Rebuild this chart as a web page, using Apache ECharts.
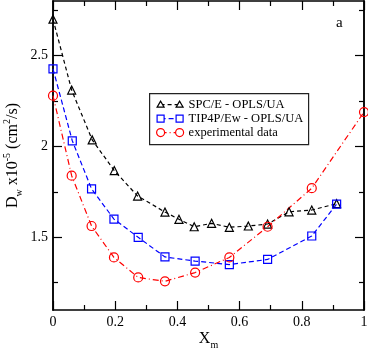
<!DOCTYPE html>
<html>
<head>
<meta charset="utf-8">
<script src="https://cdn.jsdelivr.net/npm/echarts@6/dist/echarts.min.js"></script>
<style>
  html, body { margin: 0; padding: 0; background: #fff; }
  #chart { width: 368px; height: 350px; }
</style>
</head>
<body>
<div id="chart"></div>
<script>
const spcX = [0, 0.06, 0.126, 0.197, 0.272, 0.36, 0.405, 0.454, 0.51, 0.567, 0.628, 0.69, 0.759, 0.832, 0.912]
const spcY = [2.70, 2.31, 2.036, 1.867, 1.727, 1.639, 1.599, 1.558, 1.577, 1.555, 1.562, 1.573, 1.64, 1.65, 1.685]
const tipX = [0, 0.062, 0.124, 0.196, 0.274, 0.36, 0.457, 0.567, 0.69, 0.832, 0.912]
const tipY = [2.427, 2.031, 1.766, 1.600, 1.500, 1.392, 1.369, 1.350, 1.378, 1.507, 1.682]
const expX = [0, 0.06, 0.124, 0.196, 0.274, 0.36, 0.457, 0.567, 0.69, 0.832, 1.0]
const expY = [2.279, 1.839, 1.562, 1.389, 1.279, 1.258, 1.306, 1.389, 1.558, 1.770, 2.189]

const yMajor = [1.5, 2, 2.5]
const yMinor = [1.25, 1.75, 2.25, 2.75]
const legendNames = ['SPC/E - OPLS/UA', 'TIP4P/Ew - OPLS/UA', 'experimental data']

const font = 'Liberation Serif'
const colors = ['#000000', '#0000ff', '#ff0000']

const pair = (xs, ys) => xs.map((x, i) => [x, ys[i]])

const chart = echarts.init(document.getElementById('chart'))

const xBase = {
  type: 'value', min: 0, max: 1, interval: 0.2,
  axisLine: { lineStyle: { color: '#000', width: 1.5 } },
  axisTick: { inside: true, length: 9, lineStyle: { color: '#000', width: 1.2 } },
  minorTick: { show: true, splitNumber: 2, length: 5, lineStyle: { color: '#000', width: 1.2 } },
  splitLine: { show: false }
}
const yBase = {
  type: 'value', min: 1.1, max: 2.8,
  axisLine: { show: true, lineStyle: { color: '#000', width: 1.5 } },
  splitLine: { show: false }
}

const option = {
  animation: false,
  grid: { left: 53, right: 4, top: 1, bottom: 40, outerBoundsMode: 'none' },
  xAxis: [
    Object.assign({}, xBase, {
      position: 'bottom',
      name: 'X{sub|m}',
      nameLocation: 'middle',
      nameGap: 18,
      nameMoveOverlap: false,
      nameTextStyle: {
        fontFamily: font, fontSize: 16, color: '#000', lineHeight: 18, verticalAlign: 'top',
        rich: { sub: { fontFamily: font, fontSize: 10, color: '#000', verticalAlign: 'bottom', lineHeight: 22 } }
      },
      axisLabel: { fontFamily: font, fontSize: 14, color: '#000', margin: 5 }
    }),
    Object.assign({}, xBase, { position: 'top', axisLabel: { show: false } })
  ],
  yAxis: [
    Object.assign({}, yBase, {
      position: 'left',
      name: 'D{sub|w} x10{sup|-5} (cm{sup|2}/s)',
      nameLocation: 'middle',
      nameGap: 29,
      nameMoveOverlap: false,
      nameTextStyle: {
        fontFamily: font, fontSize: 16, color: '#000', lineHeight: 22,
        rich: {
          sub: { fontFamily: font, fontSize: 10, color: '#000', verticalAlign: 'bottom', lineHeight: 22 },
          sup: { fontFamily: font, fontSize: 10, color: '#000', verticalAlign: 'top', lineHeight: 22 }
        }
      },
      axisTick: { inside: true, length: 9, customValues: yMajor, lineStyle: { color: '#000', width: 1.2 } },
      axisLabel: { customValues: yMajor, fontFamily: font, fontSize: 14, color: '#000', margin: 5 }
    }),
    Object.assign({}, yBase, {
      position: 'left',
      axisTick: { inside: true, length: 5, customValues: yMinor, lineStyle: { color: '#000', width: 1.2 } },
      axisLabel: { show: false }
    }),
    Object.assign({}, yBase, {
      position: 'right',
      axisTick: { inside: true, length: 9, customValues: yMajor, lineStyle: { color: '#000', width: 1.2 } },
      axisLabel: { show: false }
    }),
    Object.assign({}, yBase, {
      position: 'right',
      axisTick: { inside: true, length: 5, customValues: yMinor, lineStyle: { color: '#000', width: 1.2 } },
      axisLabel: { show: false }
    })
  ],
  series: [
    {
      name: legendNames[0], type: 'line', data: pair(spcX, spcY),
      symbol: 'triangle', symbolSize: 8, clip: false,
      lineStyle: { color: colors[0], width: 1.2, type: [4, 3] },
      itemStyle: { color: 'rgba(255,255,255,0)', borderColor: colors[0], borderWidth: 1.2 }
    },
    {
      name: legendNames[1], type: 'line', data: pair(tipX, tipY),
      symbol: 'rect', symbolSize: 8, clip: false,
      lineStyle: { color: colors[1], width: 1.2, type: [5, 3] },
      itemStyle: { color: 'rgba(255,255,255,0)', borderColor: colors[1], borderWidth: 1.2 }
    },
    {
      name: legendNames[2], type: 'line', data: pair(expX, expY),
      symbol: 'circle', symbolSize: 9, clip: false,
      lineStyle: { color: colors[2], width: 1.2, type: [6, 3, 1, 3] },
      itemStyle: { color: 'rgba(255,255,255,0)', borderColor: colors[2], borderWidth: 1.2 }
    }
  ],
  graphic: [
    { type: 'text', left: 336, top: 16, style: { text: 'a', fontFamily: font, fontSize: 15, fill: '#000' } },
    {
      type: 'group', left: 149, top: 93,
      children: [
        { type: 'rect', shape: { x: 0, y: 0, width: 159, height: 51 }, style: { fill: '#fff', stroke: '#222', lineWidth: 1.2 } },
        // row 1
        { type: 'line', shape: { x1: 11, y1: 11, x2: 30, y2: 11 }, style: { stroke: colors[0], lineWidth: 1.2, lineDash: [4, 3] } },
        { type: 'polygon', shape: { points: [[11, 7.5], [7.5, 13.5], [14.5, 13.5]] }, style: { fill: '#fff', stroke: colors[0], lineWidth: 1.2 } },
        { type: 'polygon', shape: { points: [[30, 7.5], [26.5, 13.5], [33.5, 13.5]] }, style: { fill: '#fff', stroke: colors[0], lineWidth: 1.2 } },
        { type: 'text', x: 39, y: 11, style: { text: legendNames[0], fontFamily: font, fontSize: 12.5, fill: '#000', verticalAlign: 'middle' } },
        // row 2
        { type: 'line', shape: { x1: 11, y1: 25, x2: 30, y2: 25 }, style: { stroke: colors[1], lineWidth: 1.2, lineDash: [5, 3] } },
        { type: 'rect', shape: { x: 7.5, y: 21.5, width: 7, height: 7 }, style: { fill: '#fff', stroke: colors[1], lineWidth: 1.2 } },
        { type: 'rect', shape: { x: 26.5, y: 21.5, width: 7, height: 7 }, style: { fill: '#fff', stroke: colors[1], lineWidth: 1.2 } },
        { type: 'text', x: 39, y: 25, style: { text: legendNames[1], fontFamily: font, fontSize: 12.5, fill: '#000', verticalAlign: 'middle' } },
        // row 3
        { type: 'line', shape: { x1: 11, y1: 39, x2: 30, y2: 39 }, style: { stroke: colors[2], lineWidth: 1.2, lineDash: [6, 3, 1, 3] } },
        { type: 'circle', shape: { cx: 11, cy: 39, r: 4 }, style: { fill: '#fff', stroke: colors[2], lineWidth: 1.2 } },
        { type: 'circle', shape: { cx: 30, cy: 39, r: 4 }, style: { fill: '#fff', stroke: colors[2], lineWidth: 1.2 } },
        { type: 'text', x: 39, y: 39, style: { text: legendNames[2], fontFamily: font, fontSize: 12.5, fill: '#000', verticalAlign: 'middle' } }
      ]
    }
  ]
}

chart.setOption(option)
</script>
</body>
</html>
